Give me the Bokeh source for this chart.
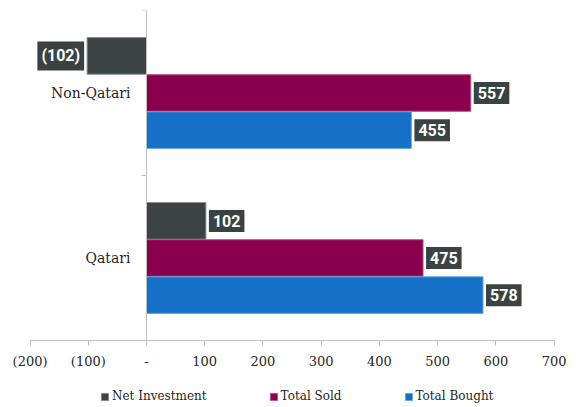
from bokeh.plotting import figure
from bokeh.models import (ColumnDataSource, Legend, LegendItem, FixedTicker,
                          LinearAxis, Range1d)
from bokeh.transform import dodge
from bokeh.core.properties import value
from bokeh.embed import file_html
from bokeh.resources import INLINE

# ---- data ----
categories = ["Qatari", "Non-Qatari"]          # bottom to top
series_names = ["Net Investment", "Total Sold", "Total Bought"]
net_investment = [102, -102]
total_sold = [475, 557]
total_bought = [578, 455]
x_ticks = [-200, -100, 0, 100, 200, 300, 400, 500, 600, 700]
x_tick_labels = ["(200)", "(100)", "-", "100", "200", "300", "400", "500", "600", "700"]

# ---- styles ----
fill_colors = ["#3b4442", "#8a004f", "#1571c7"]
edge_colors = ["#858c8a", "#b5558c", "#6aa6e2"]
offsets = [0.225, 0.0, -0.225]
bar_h = 0.222
serif = "DejaVu Serif"
axis_grey = "#bfbfbf"
text_col = "#262626"

cat_pos = [i + 0.5 for i in range(len(categories))]
cat_bounds = [float(i) for i in range(len(categories) + 1)]

p = figure(width=578, height=407, x_range=Range1d(-250.8, 742),
           y_range=Range1d(-0.406, len(categories)),
           output_backend="svg", toolbar_location=None,
           min_border_left=0, min_border_right=0, min_border_top=10,
           min_border_bottom=0)
p.outline_line_color = None
p.xgrid.visible = False
p.ygrid.visible = False
p.background_fill_color = "white"

# x axis fixed at the bottom of the category area
xa = p.xaxis[0]
xa.fixed_location = 0
xa.bounds = (x_ticks[0], x_ticks[-1])
xa.ticker = FixedTicker(ticks=x_ticks)
xa.major_label_overrides = {t: l for t, l in zip(x_ticks, x_tick_labels)}
xa.axis_line_color = axis_grey
xa.major_tick_line_color = axis_grey
xa.major_tick_out = 5
xa.major_tick_in = 0
xa.minor_tick_line_color = None
xa.major_label_text_font = serif
xa.major_label_text_font_size = "13px"
xa.major_label_text_color = text_col
xa.major_label_standoff = 8

# y axis at x = 0: line + ticks at category boundaries
ya = p.yaxis[0]
ya.fixed_location = 0
ya.bounds = (cat_bounds[0], cat_bounds[-1])
ya.ticker = FixedTicker(ticks=cat_bounds)
ya.major_label_overrides = {b: "" for b in cat_bounds}
ya.axis_line_color = axis_grey
ya.major_tick_line_color = axis_grey
ya.major_tick_out = 5
ya.major_tick_in = 0
ya.minor_tick_line_color = None

# category names at category centres
ya2 = LinearAxis(fixed_location=0, ticker=FixedTicker(ticks=cat_pos),
                 major_label_overrides={c: n for c, n in zip(cat_pos, categories)},
                 axis_line_color=None, major_tick_line_color=None,
                 minor_tick_line_color=None, major_tick_out=0, major_tick_in=0,
                 major_label_standoff=16, major_label_text_font=serif,
                 major_label_text_font_size="14px", major_label_text_color=text_col)
p.add_layout(ya2, "left")

series_values = [net_investment, total_sold, total_bought]
items = []
for name, vals, fc, ec, off in zip(series_names, series_values, fill_colors, edge_colors, offsets):
    labels = [f"({abs(v)})" if v < 0 else f"{v}" for v in vals]
    aligns = ["right" if v < 0 else "left" for v in vals]
    xoffs = [-3 if v < 0 else 3 for v in vals]
    src = ColumnDataSource(dict(pos=cat_pos, val=vals, lab=labels, al=aligns, xo=xoffs))
    r = p.hbar(y=dodge("pos", off), right="val", left=0, height=bar_h,
               fill_color=fc, line_color=ec, line_width=1, source=src)
    items.append(LegendItem(label=name, renderers=[r]))
    p.text(x="val", y=dodge("pos", off), text="lab", source=src,
           text_align="al", text_baseline="middle", x_offset="xo",
           text_font=value("Roboto"), text_font_style="bold", text_font_size="16px",
           text_color="white", background_fill_color="#3a4341",
           padding=dict(left=4, right=4, top=5, bottom=5))

legend = Legend(items=items, orientation="horizontal", location=(100, 4),
                padding=0, margin=0, spacing=62, label_standoff=3,
                glyph_width=9, glyph_height=9, label_height=14,
                border_line_color=None, background_fill_alpha=0,
                label_text_font=serif, label_text_font_size="12px",
                label_text_color=text_col)
p.add_layout(legend, "center")

open("out.html", "w").write(file_html(p, INLINE))
